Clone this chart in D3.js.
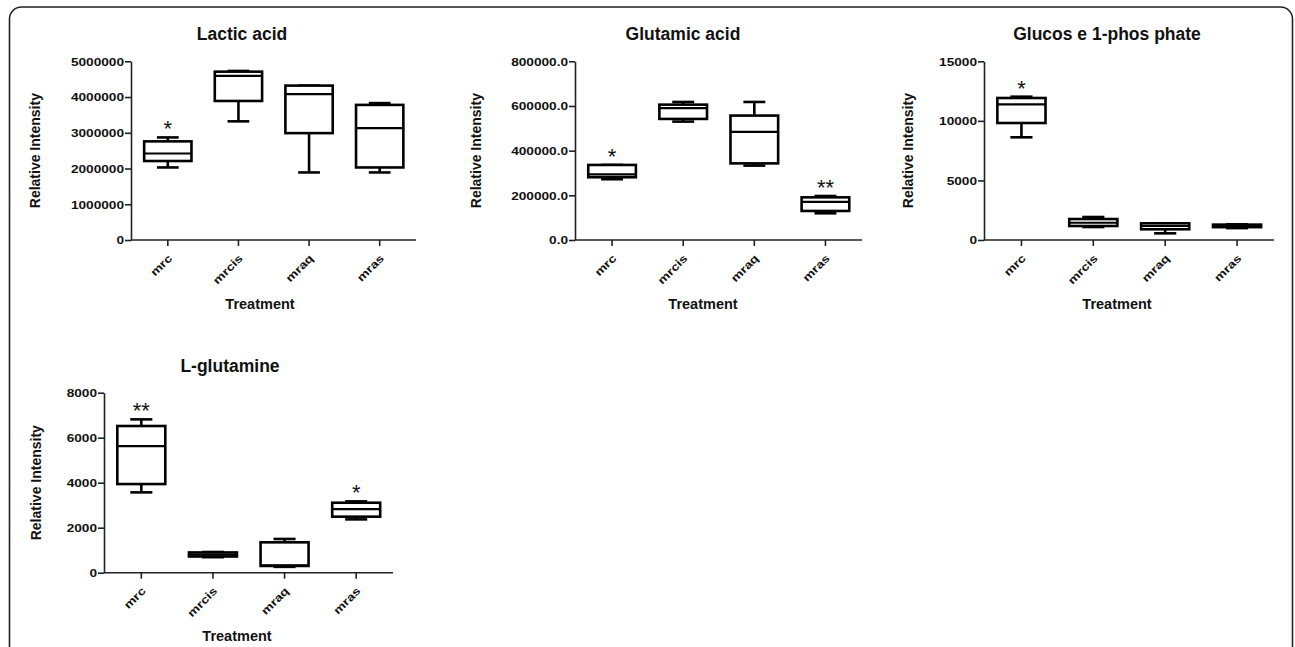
<!DOCTYPE html>
<html>
<head>
<meta charset="utf-8">
<script src="https://cdn.jsdelivr.net/npm/d3@7"></script>
<style>
  body { margin: 0; background: #fff; }
  svg { display: block; }
  text { font-family: "Liberation Sans", Arial, sans-serif; font-weight: bold; fill: #111; }
</style>
</head>
<body>
<svg id="chart" width="1295" height="647"></svg>
<script>
// Treatment groups (x categories)
const categories = ["mrc", "mrcis", "mraq", "mras"];

// Five-number summaries per group: [min, q1, median, q3, max]
const lacticAcid = [
  [2030000, 2210000, 2420000, 2760000, 2870000],
  [3320000, 3890000, 4590000, 4710000, 4730000],
  [1890000, 2990000, 4080000, 4320000, 4320000],
  [1890000, 2030000, 3130000, 3780000, 3830000]
];
const glutamicAcid = [
  [272000, 281000, 294000, 336000, 336000],
  [530000, 542000, 590000, 606000, 618000],
  [333000, 343000, 484000, 557000, 618000],
  [119500, 130000, 171000, 191000, 197000]
];
const glucose1P = [
  [8620, 9820, 11390, 11920, 12030],
  [1090, 1175, 1450, 1760, 1930],
  [560, 900, 1175, 1400, 1400],
  [1000, 1080, 1200, 1290, 1310]
];
const lGlutamine = [
  [3570, 3940, 5630, 6520, 6815],
  [690, 720, 800, 900, 920],
  [260, 300, 330, 1350, 1500],
  [2370, 2490, 2830, 3110, 3170]
];

// Significance marks per group
const lacticMarks = ["*", "", "", ""];
const glutamicMarks = ["*", "", "", "**"];
const glucoseMarks = ["*", "", "", ""];
const glutamineMarks = ["**", "", "", "*"];

// Y-axis tick values
const lacticTicks = [0, 1000000, 2000000, 3000000, 4000000, 5000000];
const glutamicTicks = [0, 200000, 400000, 600000, 800000];
const glucoseTicks = [0, 5000, 10000, 15000];
const glutamineTicks = [0, 2000, 4000, 6000, 8000];

const svg = d3.select("#chart");

// Outer rounded frame
svg.append("rect")
  .attr("x", 9.5).attr("y", 7)
  .attr("width", 1283).attr("height", 720)
  .attr("rx", 12).attr("ry", 12)
  .attr("fill", "none").attr("stroke", "#222").attr("stroke-width", 1.6);

const panels = [
  { title: "Lactic acid", data: lacticAcid, marks: lacticMarks, ticks: lacticTicks, fmt: d3.format("d"),
    x0: 131, x1: 416, yTop: 61.3, yBottom: 240, titleX: 242, titleY: 39.5, labelX: 40, xlabX: 260 },
  { title: "Glutamic acid", data: glutamicAcid, marks: glutamicMarks, ticks: glutamicTicks, fmt: d3.format(".1f"),
    x0: 575, x1: 862, yTop: 61.3, yBottom: 240, titleX: 683, titleY: 39.5, labelX: 481, xlabX: 703 },
  { title: "Glucos e 1-phos phate", data: glucose1P, marks: glucoseMarks, ticks: glucoseTicks, fmt: d3.format("d"),
    x0: 984, x1: 1274, yTop: 61.3, yBottom: 240, titleX: 1107, titleY: 39.5, labelX: 913, xlabX: 1117 },
  { title: "L-glutamine", data: lGlutamine, marks: glutamineMarks, ticks: glutamineTicks, fmt: d3.format("d"),
    x0: 104, x1: 393, yTop: 392.7, yBottom: 572.7, titleX: 230, titleY: 371.5, labelX: 41, xlabX: 237 }
];

panels.forEach(p => {
  const g = svg.append("g");
  const maxTick = p.ticks[p.ticks.length - 1];

  const y = d3.scaleLinear().domain([0, maxTick]).range([p.yBottom, p.yTop]);
  const x = d3.scaleBand().domain(categories).range([p.x0 + 1.5, p.x1 - 1]).paddingInner(0.33).paddingOuter(0.165);
  const bw = x.bandwidth();
  const cx = d => x(d) + bw / 2;

  // Title
  g.append("text")
    .attr("x", p.titleX).attr("y", p.titleY)
    .attr("text-anchor", "middle")
    .style("font-size", "17.5px")
    .text(p.title);

  // Y axis
  const yAxis = g.append("g")
    .attr("transform", `translate(${p.x0},0)`)
    .call(d3.axisLeft(y).tickValues(p.ticks).tickFormat(p.fmt).tickSize(6).tickSizeOuter(0));
  yAxis.select(".domain").attr("stroke", "#222").attr("stroke-width", 1.6);
  yAxis.selectAll(".tick line").attr("stroke", "#222").attr("stroke-width", 1.6);
  yAxis.selectAll(".tick text")
    .attr("x", null).attr("dy", "0.36em")
    .attr("text-anchor", "end")
    .attr("transform", "translate(-7,0) scale(1.3,1)")
    .style("font-size", "10.5px").style("font-family", null).attr("fill", "#111");

  // X axis
  const xAxis = g.append("g")
    .attr("transform", `translate(0,${p.yBottom})`)
    .call(d3.axisBottom(x).tickSize(6).tickSizeOuter(0));
  xAxis.select(".domain").attr("d", `M${p.x0},0H${p.x1}`).attr("stroke", "#222").attr("stroke-width", 1.6);
  xAxis.selectAll(".tick line").attr("stroke", "#222").attr("stroke-width", 1.6);
  xAxis.selectAll(".tick text")
    .attr("y", null).attr("dy", null)
    .attr("text-anchor", "end")
    .attr("transform", "translate(5,19) rotate(-45) scale(1.25,1)")
    .style("font-size", "11px").style("font-family", null).attr("fill", "#111");

  // Axis titles
  g.append("text")
    .attr("transform", `translate(${p.labelX},${(p.yTop + p.yBottom) / 2}) rotate(-90)`)
    .attr("text-anchor", "middle")
    .style("font-size", "14px")
    .text("Relative Intensity");
  g.append("text")
    .attr("x", p.xlabX).attr("y", p.yBottom + 68.5)
    .attr("text-anchor", "middle")
    .style("font-size", "14.5px")
    .text("Treatment");

  // Box plots
  const groups = p.data.map((s, i) => ({ cat: categories[i], s, mark: p.marks[i] }));
  const boxes = g.selectAll(".box")
    .data(groups)
    .join("g").attr("class", "box")
    .attr("fill", "none").attr("stroke", "#000").attr("stroke-width", 2.6);

  const capW = bw * 0.46;
  // whiskers
  boxes.append("line")
    .attr("x1", d => cx(d.cat)).attr("x2", d => cx(d.cat))
    .attr("y1", d => y(d.s[4])).attr("y2", d => y(d.s[3]));
  boxes.append("line")
    .attr("x1", d => cx(d.cat)).attr("x2", d => cx(d.cat))
    .attr("y1", d => y(d.s[1])).attr("y2", d => y(d.s[0]));
  // caps
  boxes.append("line")
    .attr("x1", d => cx(d.cat) - capW / 2).attr("x2", d => cx(d.cat) + capW / 2)
    .attr("y1", d => y(d.s[4])).attr("y2", d => y(d.s[4]));
  boxes.append("line")
    .attr("x1", d => cx(d.cat) - capW / 2).attr("x2", d => cx(d.cat) + capW / 2)
    .attr("y1", d => y(d.s[0])).attr("y2", d => y(d.s[0]));
  // box
  boxes.append("rect")
    .attr("x", d => x(d.cat)).attr("width", bw)
    .attr("y", d => y(d.s[3])).attr("height", d => y(d.s[1]) - y(d.s[3]))
    .attr("fill", "#fff");
  // median
  boxes.append("line")
    .attr("x1", d => x(d.cat)).attr("x2", d => x(d.cat) + bw)
    .attr("y1", d => y(d.s[2])).attr("y2", d => y(d.s[2]))
    .attr("stroke-width", 2.2);

  // significance marks
  g.selectAll(".mark")
    .data(groups.filter(d => d.mark))
    .join("text").attr("class", "mark")
    .attr("x", d => cx(d.cat)).attr("y", d => y(d.s[4]) - 1)
    .attr("text-anchor", "middle")
    .style("font-size", "22px").style("font-weight", "normal")
    .attr("fill", "#333")
    .text(d => d.mark);
});
</script>
</body>
</html>
